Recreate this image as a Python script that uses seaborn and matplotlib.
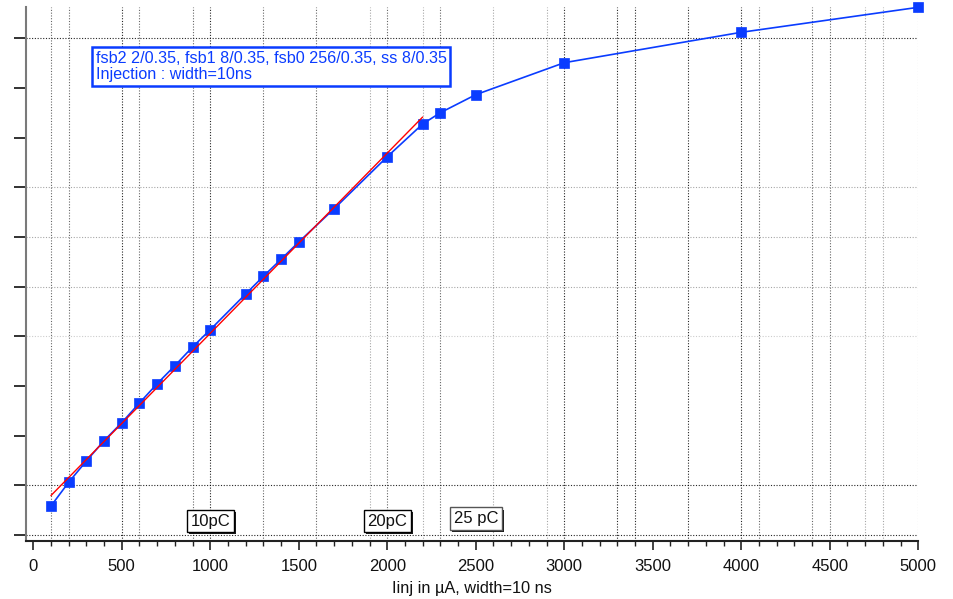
import numpy as np
import pandas as pd
import matplotlib
matplotlib.use("Agg")
import matplotlib.pyplot as plt
import matplotlib.patheffects as pe
from matplotlib.ticker import MultipleLocator, NullFormatter
import seaborn as sns

# Injected current (uA) and measured output (arbitrary units, one unit per y tick)
i_inj = [100, 200, 300, 400, 500, 600, 700, 800, 900, 1000,
         1200, 1300, 1400, 1500, 1700, 2000, 2200, 2300, 2500,
         3000, 4000, 5000]
v_out = [0.584, 1.061, 1.490, 1.899, 2.261, 2.658, 3.046, 3.409, 3.785, 4.133,
         4.852, 5.208, 5.551, 5.899, 6.569, 7.616, 8.275, 8.502, 8.865,
         9.509, 10.121, 10.624]

# Upper end of the linear-fit range (uA)
fit_max = 2200

# Charge markers (10 ns injection width)
charge_labels = ["10pC", "20pC", "25 pC"]
charge_current = [1000, 2000, 2500]
charge_level = [0.28, 0.28, 0.33]

info_text = "fsb2 2/0.35, fsb1 8/0.35, fsb0 256/0.35, ss 8/0.35\nInjection : width=10ns"

BLUE = "#0a3cff"

df = pd.DataFrame({"iinj": i_inj, "vout": v_out})

sns.set_theme(style="white")
plt.rcParams["font.family"] = ["Liberation Sans", "DejaVu Sans"]

fig = plt.figure(figsize=(9.54, 5.99), dpi=100)
ax = fig.add_axes([0.02725, 0.0973, 0.9353, 0.8905])

# Dotted grid
vgrid = {
    0.85: [500, 1000, 3000, 3300, 3400, 3700, 4000],
    0.6: [100, 200, 600, 900, 1300, 1600, 2000, 2300, 4100, 4400, 4500],
    0.35: [1900, 2200, 2600, 2900, 4700, 4800, 5000],
}
for a, xs in vgrid.items():
    for xv in xs:
        ax.axvline(xv, color="black", alpha=a, lw=0.8, ls=(0, (1, 1.5)), zorder=0)
hgrid = {0.85: [10, 1, 0], 0.35: [7, 6, 5], 0.2: [4]}
for a, ys in hgrid.items():
    for yv in ys:
        ax.axhline(yv, color="black", alpha=a, lw=0.8, ls=(0, (1, 1.5)), zorder=0)

# Measured curve
sns.lineplot(data=df, x="iinj", y="vout", ax=ax, color=BLUE, lw=1.2,
             marker="s", markersize=7.5, markeredgecolor=BLUE,
             markeredgewidth=0.5, clip_on=False, zorder=3)

# Linear fit over the low-current range
sns.regplot(data=df[df["iinj"] <= fit_max], x="iinj", y="vout", ax=ax,
            ci=None, scatter=False, truncate=True, color="red",
            line_kws={"lw": 1.0, "zorder": 4})

ax.set_xlim(-41, 5000)
ax.set_ylim(-0.115, max(v_out))

ax.xaxis.set_major_locator(MultipleLocator(500))
ax.xaxis.set_minor_locator(MultipleLocator(100))
ax.yaxis.set_major_locator(MultipleLocator(1))
ax.yaxis.set_major_formatter(NullFormatter())
ax.tick_params(axis="x", which="major", direction="out", length=6.5, width=1.2,
               color="#222222", labelsize=12, pad=7, labelcolor="#111111", bottom=True)
ax.tick_params(axis="x", which="minor", direction="out", length=3.6, width=1.0,
               color="#222222", bottom=True)
ax.tick_params(axis="y", which="major", direction="out", length=8.5, width=1.3,
               color="#222222", left=True)

for s in ["top", "right"]:
    ax.spines[s].set_visible(False)
ax.spines["left"].set_color("#7a7a7a")
ax.spines["left"].set_linewidth(1.5)
ax.spines["bottom"].set_color("#222222")
ax.spines["bottom"].set_linewidth(1.5)

ax.set_xlabel("Iinj in µA, width=10 ns", fontsize=11.8, color="#111111", labelpad=5)
ax.set_ylabel("")

# Configuration box
ax.text(352, 9.74, info_text, ha="left", va="top", color=BLUE, fontsize=11.6,
        linespacing=1.08, zorder=5,
        bbox=dict(boxstyle="square,pad=0.25", fc="white", ec=BLUE, lw=1.8))

# Charge labels with drop shadow
for lab, xc, yc in zip(charge_labels, charge_current, charge_level):
    ec = "#555555" if lab.startswith("25") else "black"
    t = ax.text(xc, yc, lab, ha="center", va="center", fontsize=12,
                color="#111111", zorder=5,
                bbox=dict(boxstyle="square,pad=0.22", fc="white", ec=ec, lw=1.0))
    t.get_bbox_patch().set_path_effects([
        pe.SimplePatchShadow(offset=(1.5, -1.5), shadow_rgbFace="black", alpha=0.9),
        pe.Normal()])

fig.savefig("out.png", dpi=100)
